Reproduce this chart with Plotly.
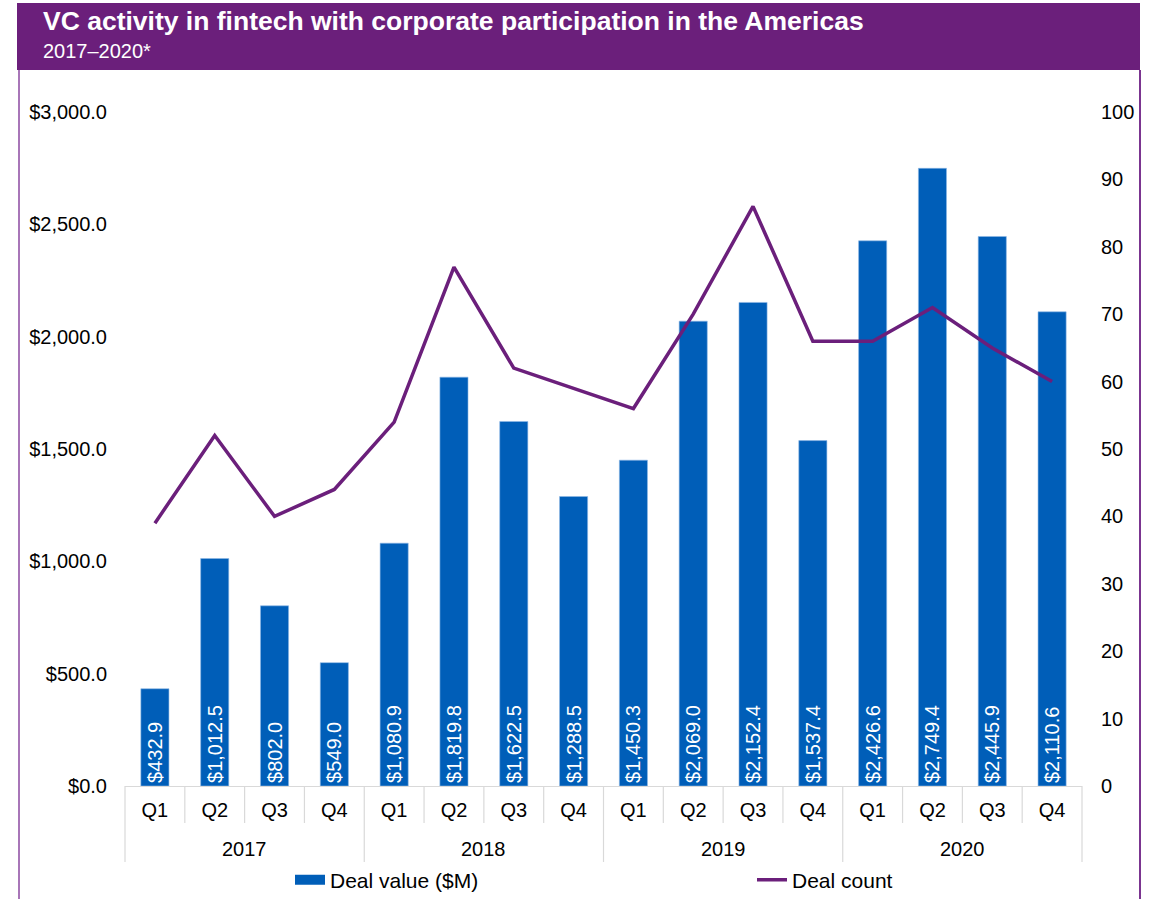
import plotly.graph_objects as go

years = ["2017"] * 4 + ["2018"] * 4 + ["2019"] * 4 + ["2020"] * 4
quarters = ["Q1", "Q2", "Q3", "Q4"] * 4
deal_value = [432.9, 1012.5, 802.0, 549.0,
              1080.9, 1819.8, 1622.5, 1288.5,
              1450.3, 2069.0, 2152.4, 1537.4,
              2426.6, 2749.4, 2445.9, 2110.6]
deal_count = [39, 52, 40, 44,
              54, 77, 62, 59,
              56, 70, 86, 66,
              66, 71, 65, 60]

W, H = 1158, 899
L, R, T, B = 125, 76, 112, 113
pw, ph = W - L - R, H - T - B

def px(x):
    return (x - L) / pw

def py(y):
    return (H - B - y) / ph

purple = "#6B1F7B"
blue = "#005EB8"
font = "Liberation Sans, Arial, sans-serif"

keys = [f"{y} {q}" for y, q in zip(years, quarters)]

fig = go.Figure()
fig.add_trace(go.Bar(
    x=keys, y=deal_value, name="Deal value ($M)", showlegend=False,
    marker=dict(color=blue, line=dict(color="#8FB8E6", width=0.6)),
    width=0.47,
    texttemplate="$%{y:,.1f}", textposition="inside", insidetextanchor="start",
    textangle=-90, textfont=dict(color="white", size=20, family=font),
    constraintext="none",
))
fig.add_trace(go.Scatter(
    x=keys, y=deal_count, name="Deal count", yaxis="y2", legend="legend2",
    mode="lines", line=dict(color=purple, width=3.5),
))
# legend entry drawn as a wide block like the original
fig.add_trace(go.Scatter(
    x=[None], y=[None], name="Deal value ($M)", mode="lines",
    line=dict(color=blue, width=10), legend="legend",
))

shapes = [
    dict(type="rect", xref="paper", yref="paper", x0=px(17), x1=px(1140),
         y0=py(70), y1=py(3), fillcolor=purple, line_width=0, layer="below"),
    dict(type="line", xref="paper", yref="paper", x0=px(19), x1=px(19),
         y0=py(70), y1=py(899), line=dict(color="#A876B8", width=2)),
    dict(type="line", xref="paper", yref="paper", x0=px(1140), x1=px(1140),
         y0=py(70), y1=py(899), line=dict(color="#7B3590", width=2)),
]
n = len(keys)
for i in range(n + 1):
    y_end = py(862) if i % 4 == 0 else py(823)
    shapes.append(dict(type="line", xref="paper", yref="paper",
                       x0=i / n, x1=i / n, y0=0, y1=y_end,
                       line=dict(color="#D9D9D9", width=1.2)))

annotations = [
    dict(text="<b>VC activity in fintech with corporate participation in the Americas</b>",
         xref="paper", yref="paper", x=px(41), y=py(21), xanchor="left", yanchor="middle",
         showarrow=False, font=dict(color="white", size=26.5, family=font)),
    dict(text="2017–2020*", xref="paper", yref="paper", x=px(41), y=py(51),
         xanchor="left", yanchor="middle", showarrow=False,
         font=dict(color="white", size=20, family=font)),
]
for yr in sorted(set(years)):
    idx = [i for i, y in enumerate(years) if y == yr]
    annotations.append(dict(text=yr, xref="x", yref="paper", x=sum(idx) / len(idx),
                            y=py(849), yanchor="middle", showarrow=False,
                            font=dict(size=20, family=font, color="black")))

legend_style = dict(orientation="h", y=py(880), yanchor="middle", xanchor="left",
                    font=dict(size=21, family=font), bgcolor="rgba(0,0,0,0)")

fig.update_layout(
    width=W, height=H,
    margin=dict(l=L, r=R, t=T, b=B, autoexpand=False),
    paper_bgcolor="white", plot_bgcolor="white",
    font=dict(family=font, size=20, color="black"),
    shapes=shapes, annotations=annotations,
    xaxis=dict(type="category", tickvals=keys, ticktext=quarters, showgrid=False,
               showline=True, linecolor="#D9D9D9", linewidth=1.2, ticks="",
               ticklabelstandoff=6, automargin=False, range=[-0.5, n - 0.5]),
    yaxis=dict(range=[0, 3000], dtick=500, tickformat="$,.1f", showgrid=False,
               zeroline=False, ticks="", ticklabelstandoff=17, automargin=False),
    yaxis2=dict(range=[0, 100], dtick=10, overlaying="y", side="right",
                showgrid=False, zeroline=False, ticks="", ticklabelstandoff=18,
                automargin=False),
    legend=dict(x=px(290), **legend_style),
    legend2=dict(x=px(752), **legend_style),
)

fig.write_html("out.html", config={"displayModeBar": False},
               post_script="document.body.style.margin='0';document.body.style.overflow='hidden';")
